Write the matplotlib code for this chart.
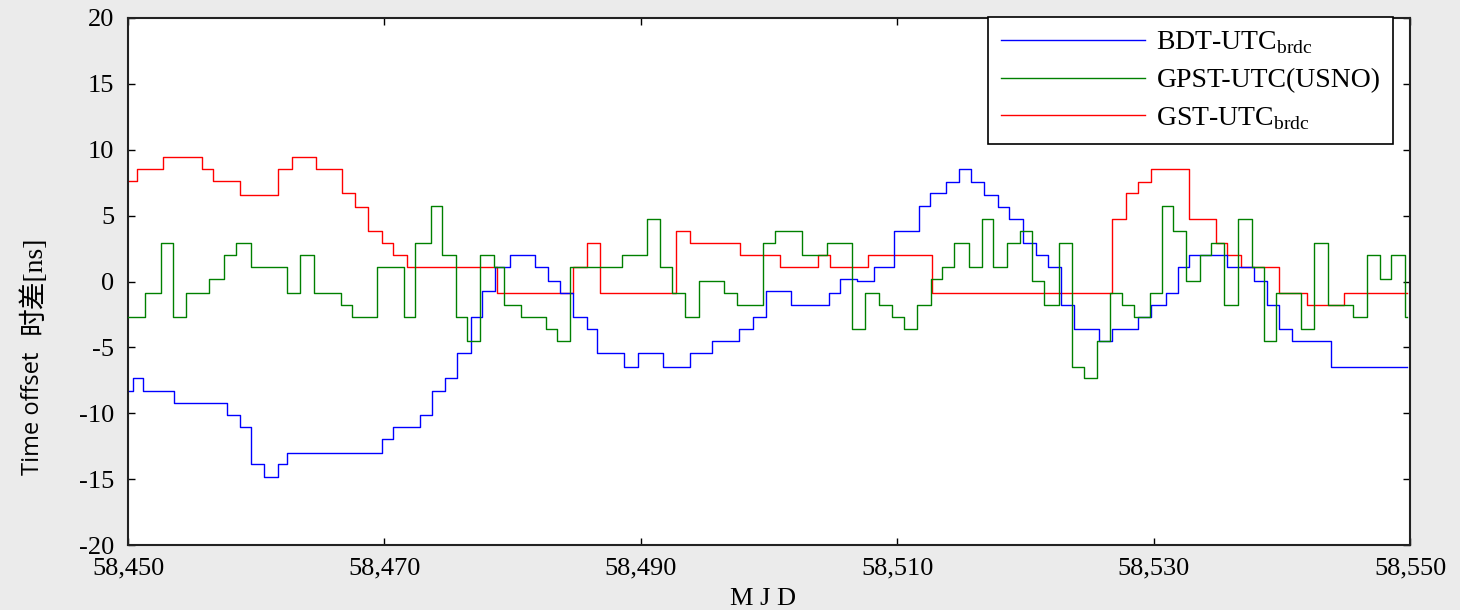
import matplotlib
matplotlib.use('Agg')
import matplotlib.pyplot as plt
from matplotlib.ticker import FuncFormatter

# change times (MJD) and levels (ns), drawn as steps
bdt_mjd = [58450.0, 58450.4, 58451.2, 58453.6, 58457.7, 58458.74, 58459.6, 58460.63, 58461.73,
           58462.4, 58469.79, 58470.7, 58472.78, 58473.69, 58474.73, 58475.69, 58476.75, 58477.64,
           58478.63, 58479.8, 58481.75, 58482.79, 58483.7, 58484.69, 58485.78, 58486.61, 58488.71,
           58489.8, 58491.7, 58493.84, 58495.58, 58497.69, 58498.73, 58499.8, 58501.72, 58504.68,
           58505.54, 58506.84, 58508.2, 58509.77, 58511.72, 58512.56, 58513.8, 58514.85, 58515.73,
           58516.8, 58517.89, 58518.74, 58519.84, 58520.83, 58521.75, 58522.78, 58523.82, 58525.74,
           58526.78, 58528.75, 58529.77, 58530.94, 58531.88, 58532.78, 58535.75, 58537.86, 58538.87,
           58539.8, 58540.82, 58543.81, 58549.74]
bdt_ns = [-8.31, -7.35, -8.31, -9.25, -10.13, -11.02, -13.88, -14.84, -13.88,
          -13.0, -11.98, -11.02, -10.13, -8.31, -7.35, -5.4, -2.72, -0.75,
          1.1, 1.99, 1.1, 0.04, -0.9, -2.72, -3.63, -5.4, -6.51,
          -5.4, -6.51, -5.4, -4.52, -3.63, -2.72, -0.75, -1.78, -0.9,
          0.16, 0.04, 1.1, 3.83, 5.73, 6.69, 7.58, 8.51, 7.58,
          6.57, 5.63, 4.72, 2.9, 1.99, 1.1, -1.78, -3.63, -4.52,
          -3.63, -2.72, -1.78, -0.9, 1.1, 1.99, 1.1, 0.04, -1.78,
          -3.63, -4.52, -6.51, -6.51]

gpst_mjd = [58450.0, 58451.35, 58452.57, 58453.5, 58454.5, 58456.3, 58457.49, 58458.45, 58459.6,
            58462.38, 58463.42, 58464.51, 58466.61, 58467.5, 58469.4, 58471.5, 58472.36, 58473.63,
            58474.5, 58475.56, 58476.42, 58477.46, 58478.57, 58479.35, 58480.66, 58482.6, 58483.44,
            58484.48, 58488.51, 58490.46, 58491.5, 58492.4, 58493.45, 58494.55, 58496.5, 58497.48,
            58499.5, 58500.47, 58502.55, 58504.5, 58506.5, 58507.49, 58508.55, 58509.57, 58510.5,
            58511.52, 58512.61, 58513.5, 58514.46, 58515.6, 58516.59, 58517.5, 58518.54, 58519.58,
            58520.5, 58521.47, 58522.65, 58523.6, 58524.55, 58525.56, 58526.6, 58527.5, 58528.5,
            58529.72, 58530.63, 58531.55, 58532.53, 58533.62, 58534.48, 58535.52, 58536.61, 58537.65,
            58538.6, 58539.55, 58541.47, 58542.53, 58543.58, 58545.53, 58546.62, 58547.66, 58548.52,
            58549.61, 58549.74]
gpst_ns = [-2.72, -0.9, 2.9, -2.72, -0.9, 0.16, 1.99, 2.9, 1.1,
           -0.9, 1.99, -0.9, -1.78, -2.72, 1.1, -2.72, 2.9, 5.7,
           1.99, -2.72, -4.52, 1.99, 1.1, -1.78, -2.72, -3.63, -4.52,
           1.1, 1.99, 4.72, 1.1, -0.9, -2.72, 0.04, -0.9, -1.78,
           2.9, 3.83, 1.99, 2.9, -3.63, -0.9, -1.78, -2.72, -3.63,
           -1.78, 0.16, 1.1, 2.9, 1.1, 4.72, 1.1, 2.9, 3.83,
           0.04, -1.78, 2.9, -6.51, -7.35, -4.52, -0.9, -1.78, -2.72,
           -0.9, 5.7, 3.83, 0.04, 1.99, 2.9, -1.78, 4.72, 1.1,
           -4.52, -0.9, -3.63, 2.9, -1.78, -2.72, 1.99, 0.16, 1.99,
           -2.72, -2.72]

gst_mjd = [58450.0, 58450.68, 58452.7, 58455.77, 58456.6, 58458.74, 58461.7, 58462.8, 58464.7,
           58466.7, 58467.7, 58468.75, 58469.84, 58470.7, 58471.74, 58478.76, 58484.69, 58485.78,
           58486.84, 58492.74, 58493.84, 58497.77, 58500.86, 58503.85, 58504.75, 58507.7, 58512.74,
           58526.78, 58527.85, 58528.75, 58529.77, 58532.78, 58534.87, 58535.75, 58536.84, 58539.8,
           58541.94, 58544.87, 58549.74]
gst_ns = [7.63, 8.54, 9.43, 8.54, 7.63, 6.6, 8.54, 9.43, 8.54,
          6.7, 5.63, 3.83, 2.9, 1.99, 1.1, -0.9, 1.1, 2.9,
          -0.9, 3.83, 2.9, 1.99, 1.1, 1.99, 1.1, 1.99, -0.9,
          4.72, 6.69, 7.58, 8.51, 4.72, 2.9, 1.99, 1.1, -0.9,
          -1.78, -0.9, -0.9]

x_ticks = [58450, 58470, 58490, 58510, 58530, 58550]
y_ticks = [-20, -15, -10, -5, 0, 5, 10, 15, 20]
labels = [r'BDT-UTC$_{\rm brdc}$', 'GPST-UTC(USNO)', r'GST-UTC$_{\rm brdc}$']

plt.rcParams['mathtext.fontset'] = 'custom'
plt.rcParams['mathtext.rm'] = 'Liberation Serif'
plt.rcParams['font.family'] = ['Liberation Serif', 'Noto Sans CJK SC']
plt.rcParams['axes.unicode_minus'] = False

fig = plt.figure(figsize=(14.6, 6.1), dpi=100, facecolor='#ebebeb')
ax = fig.add_axes([128 / 1460, 1 - 545 / 610, (1410 - 128) / 1460, (545 - 18) / 610])

ax.plot(gst_mjd, gst_ns, drawstyle='steps-post', color='#ff0000', lw=1.0, zorder=2)
ax.plot(gpst_mjd, gpst_ns, drawstyle='steps-post', color='#008000', lw=1.0, zorder=3)
ax.plot(bdt_mjd, bdt_ns, drawstyle='steps-post', color='#0000ff', lw=1.0, zorder=2)

ax.set_xlim(58450, 58550)
ax.set_ylim(-20, 20)
ax.set_xticks(x_ticks)
ax.set_yticks(y_ticks)
ax.xaxis.set_major_formatter(FuncFormatter(lambda v, p: f'{int(v):,}'))
ax.tick_params(direction='in', length=5, width=1, top=True, right=True, labelsize=19)
ax.tick_params(axis='x', pad=9)
ax.tick_params(axis='y', pad=10)
for s in ax.spines.values():
    s.set_linewidth(1.5)
    s.set_color('#222222')

fig.text(763 / 1460, 1 - 599 / 610, 'M J D', ha='center', va='center', fontsize=19)

fig.text(33 / 1460, 1 - 413 / 610, 'Time offset', rotation=90,
         ha='center', va='center', fontsize=17, family=['Open Sans'])
fig.text(33 / 1460, 1 - 285 / 610, '时差[ns]', rotation=90,
         ha='center', va='center', fontsize=20,
         family=['Liberation Serif', 'Noto Sans CJK SC'])

# legend handles in the order shown in the box
h1, = ax.plot([], [], color='#0000ff', lw=1.0)
h2, = ax.plot([], [], color='#008000', lw=1.0)
h3, = ax.plot([], [], color='#ff0000', lw=1.0)
leg = ax.legend([h1, h2, h3], labels,
                loc='upper right', bbox_to_anchor=(1393 / 1460, 1 - 17 / 610),
                bbox_transform=fig.transFigure, borderaxespad=0, fontsize=20,
                frameon=True, fancybox=False, edgecolor='black', framealpha=1,
                handlelength=5.2, labelspacing=0.42, borderpad=0.45,
                handletextpad=0.4)
leg.get_frame().set_linewidth(1.2)

fig.savefig('out.png', dpi=100, facecolor=fig.get_facecolor())
